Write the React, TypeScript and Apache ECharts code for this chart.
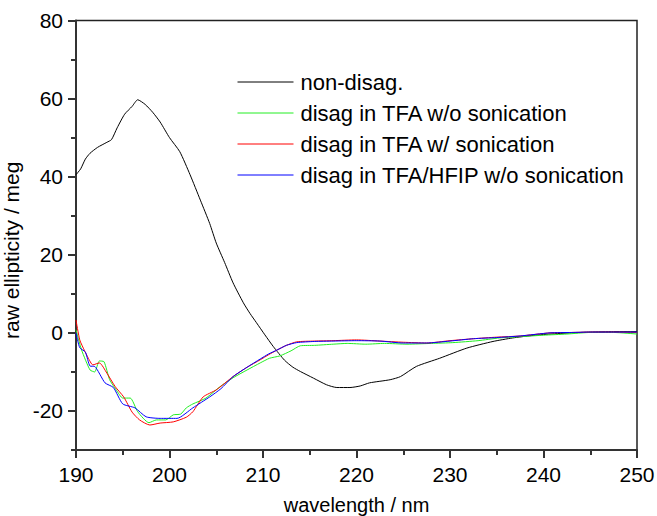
import React, { useEffect, useRef } from "react";
import * as echarts from "echarts";

const seriesNames = [
  "non-disag.",
  "disag in TFA w/o sonication",
  "disag in TFA w/ sonication",
  "disag in TFA/HFIP w/o sonication",
];

const nonDisagWl = [190, 190.5, 191, 191.5, 192.3, 193.3, 193.8, 194.4, 195.2, 196, 196.6, 197.4, 198.2, 199, 200, 201.1, 202.2, 203.3, 204.3, 205, 205.9, 206.8, 207.9, 208.6, 209.3, 210.2, 211.1, 212.3, 213.2, 214, 215.4, 216.8, 217.9, 219.3, 220.4, 221.4, 223.6, 224.7, 226.4, 228.9, 231.8, 234.6, 236.7, 238.7, 240.7, 243, 245, 247.5, 250];
const nonDisagVal = [40.5, 42, 44.5, 46, 47.5, 48.8, 49.5, 52.5, 56, 58, 59.7, 58.5, 56.5, 54, 50, 46.4, 40.5, 34, 28, 23, 18, 12.8, 7.7, 5, 2.6, -0.5, -3.5, -7, -8.8, -9.9, -11.6, -13.3, -14, -14, -13.6, -12.8, -12, -11.2, -8.6, -6.5, -3.9, -2.2, -1.3, -0.7, -0.3, 0, 0.2, 0.3, 0.3];

const tfaNoSonWl = [190, 190.6, 191.5, 192, 192.5, 193, 193.6, 194.3, 195, 195.8, 196.6, 197.8, 198.6, 199.6, 200.4, 201.2, 201.8, 202.5, 203.9, 205.4, 206.8, 208.3, 209.7, 210.7, 211.8, 213, 214, 215.5, 217.5, 219, 221, 223, 225.4, 228, 230.3, 233, 235.3, 238, 240, 242.5, 245, 247.5, 250];
const tfaNoSonVal = [0.8, -4.4, -9.5, -10, -7.2, -7.4, -12, -14.6, -16.7, -16.7, -20.2, -23, -22.3, -22.3, -21, -20.8, -19.2, -18.2, -16.7, -13.8, -11.5, -9.5, -7.7, -6.5, -5.9, -4.6, -3.3, -3.2, -2.9, -2.7, -2.9, -2.7, -2.9, -2.7, -2.5, -2.0, -1.3, -0.9, -0.6, -0.3, 0.1, 0.1, -0.3];

const tfaSonWl = [190, 190.4, 190.9, 191.3, 191.8, 192.5, 193.3, 194.2, 195.1, 196, 196.8, 197.9, 199, 200.4, 201.8, 202.5, 203.6, 205, 206.8, 208.3, 209.7, 210.6, 211.5, 212.5, 213.6, 215.5, 217.5, 220, 222.5, 225, 227.5, 230, 232.5, 235, 237.5, 240.7, 243, 245, 247.5, 250];
const tfaSonVal = [3.3, -1.8, -4.5, -6.4, -8.2, -7.7, -10.3, -13.8, -16.4, -20.3, -22.3, -23.6, -23.1, -22.8, -21.6, -20.2, -16.4, -14.6, -11.2, -8.8, -6.9, -5.6, -4.4, -3.2, -2.3, -2.1, -2.0, -1.8, -2.1, -2.4, -2.6, -2.0, -1.5, -1.1, -0.8, 0, 0.1, 0.2, 0.2, 0.1];

const hfipNoSonWl = [190, 190.4, 191, 191.5, 192, 193.1, 194, 195, 196.3, 197.5, 199, 200.8, 202.5, 204.3, 205.5, 206.8, 208.3, 209.7, 210.6, 211.5, 212.5, 213.6, 215.5, 217.5, 220, 222.5, 225, 227.5, 230, 232.5, 235, 237.5, 240.7, 243, 245, 247.5, 250];
const hfipNoSonVal = [0, -3.8, -4.9, -8.5, -8.6, -12.8, -14, -18.2, -19.2, -21.5, -21.9, -21.9, -19.2, -16.4, -14.3, -11.2, -8.8, -6.7, -5.4, -4.4, -3.2, -2.5, -2.2, -2.1, -2.0, -2.1, -2.6, -2.6, -2.1, -1.5, -1.2, -0.8, 0, 0.1, 0.2, 0.2, 0.2];

const xTickLabels = [190, 200, 210, 220, 230, 240, 250];
const yTickLabels = [-20, 0, 20, 40, 60, 80];
const yMinorTicks = [-30, -10, 10, 30, 50, 70];

const colors = ["#000000", "#22ee22", "#ff0000", "#0000ff"];

function zip(xs: number[], ys: number[]) {
  return xs.map((x, i) => [x, ys[i]]);
}

export default function App() {
  const ref = useRef<HTMLDivElement>(null);
  useEffect(() => {
    if (!ref.current) return;
    const chart = echarts.init(ref.current, null, { renderer: "svg" });
    const font = "Arial, 'Liberation Sans', sans-serif";
    const datasets = [
      zip(nonDisagWl, nonDisagVal),
      zip(tfaNoSonWl, tfaNoSonVal),
      zip(tfaSonWl, tfaSonVal),
      zip(hfipNoSonWl, hfipNoSonVal),
    ];
    const axisLine = { show: true, onZero: false, lineStyle: { color: "#333", width: 2 } };
    chart.setOption({
      animation: false,
      backgroundColor: "#fff",
      grid: {
        left: 76,
        right: 20,
        top: 20.5,
        bottom: 66,
        containLabel: false,
        outerBoundsMode: "none",
        show: true,
        borderColor: "#222",
        borderWidth: 1.5,
      },
      legend: {
        orient: "vertical",
        left: 232,
        top: 66,
        itemWidth: 56,
        itemHeight: 14,
        itemGap: 9,
        itemStyle: { opacity: 0 },
        lineStyle: { width: 1 },
        data: seriesNames,
        textStyle: { fontSize: 22, color: "#000", fontFamily: font, padding: [0, 0, 0, 2] },
      },
      xAxis: {
        type: "value",
        min: 190,
        max: 250,
        interval: 10,
        name: "wavelength / nm",
        nameLocation: "middle",
        nameGap: 45,
        nameTextStyle: { fontSize: 20, color: "#000", fontFamily: font },
        axisLine,
        axisTick: { show: true, length: 8, lineStyle: { color: "#333", width: 2 } },
        minorTick: { show: true, splitNumber: 2, length: 5, lineStyle: { color: "#333", width: 2 } },
        axisLabel: {
          fontSize: 21,
          color: "#000",
          fontFamily: font,
          margin: 14,
          customValues: xTickLabels,
        },
        splitLine: { show: false },
      },
      yAxis: [
        {
          type: "value",
          min: -30,
          max: 80,
          position: "left",
          name: "raw ellipticity / meg",
          nameLocation: "middle",
          nameGap: 41,
          nameTextStyle: { fontSize: 21, color: "#000", fontFamily: font, padding: [0, 30, 0, 0] },
          axisLine,
          axisTick: { show: true, length: 8, customValues: yTickLabels, lineStyle: { color: "#333", width: 2 } },
          axisLabel: {
            fontSize: 21,
            color: "#000",
            fontFamily: font,
            margin: 13,
            customValues: yTickLabels,
          },
          splitLine: { show: false },
        },
        {
          type: "value",
          min: -30,
          max: 80,
          position: "left",
          offset: 0,
          axisLine: { show: false },
          axisTick: { show: true, length: 5, customValues: yMinorTicks, lineStyle: { color: "#333", width: 2 } },
          axisLabel: { show: false },
          splitLine: { show: false },
        },
      ],
      series: datasets.map((d, i) => ({
        name: seriesNames[i],
        type: "line",
        data: d,
        yAxisIndex: 0,
        symbol: "none",
        smooth: 0.2,
        lineStyle: { color: colors[i], width: 1 },
        itemStyle: { color: colors[i] },
        z: i === 0 ? 2 : 3,
      })),
    });
    return () => chart.dispose();
  }, []);
  return (
    <div
      ref={ref}
      style={{ position: "fixed", left: 0, top: 0, width: 657, height: 516 }}
    />
  );
}
